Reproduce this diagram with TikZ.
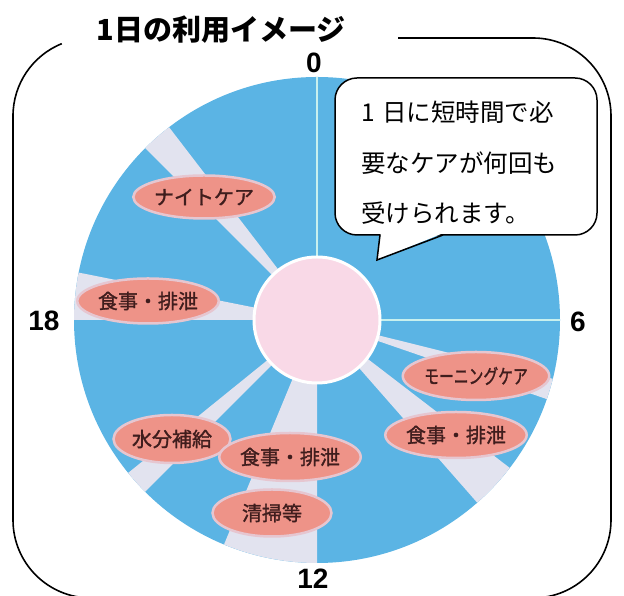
\documentclass[tikz,border=0pt]{standalone}
\usepackage{fontspec}
\usepackage{graphicx}
\usetikzlibrary{shapes.geometric}
\newfontfamily\jp{Noto Sans CJK JP}
\newfontfamily\jpm{Noto Sans CJK JP}[FakeBold=1.5]
\newfontfamily\numf{Liberation Sans}
\definecolor{bluec}{HTML}{5BB4E4}
\definecolor{slotc}{HTML}{E2E3EF}
\definecolor{linec}{HTML}{C8F0EE}
\definecolor{pinkc}{HTML}{F9D9E7}
\definecolor{salmon}{HTML}{EE9388}
\definecolor{ellborder}{HTML}{E6C6D0}
\definecolor{txtc}{HTML}{3F1D1D}
\tikzset{
  careell/.style={ellipse, fill=salmon, draw=ellborder, line width=2.5pt, inner sep=0pt,
    font=\jpm\fontsize{20}{20}\selectfont, text=txtc},
  hourlbl/.style={font=\numf\bfseries\fontsize{28}{28}\selectfont, inner sep=0pt},
  bubtxt/.style={font=\jp\fontsize{24.5}{24.5}\selectfont, inner sep=0pt, anchor=west},
  slotfill/.style={fill=slotc}
}
\begin{document}
\begin{tikzpicture}[x=1pt,y=1pt]
\useasboundingbox (0,0) rectangle (624,596);
\coordinate (C) at (317,276);
% dial
\fill[bluec] (C) circle[radius=243];
\foreach \a/\b in {127.5/135, 168.75/180, -19/-14, -48.75/-37.5, -141/-135, -112.5/-90}
  \fill[slotfill] (C) -- ++(\a:243) arc[start angle=\a, end angle=\b, radius=243] -- cycle;
\draw[linec, line width=2pt] (C) -- ++(90:243);
\draw[linec, line width=2pt] (C) -- ++(0:243);
\node[circle, fill=pinkc, draw=white, line width=3pt, minimum size=126pt, inner sep=0pt] (hub) at (C) {};
% care ellipses
\node[careell, minimum width=118pt, minimum height=43pt] (e1) at (204,399) {ナイトケア};
\node[careell, minimum width=114pt, minimum height=45pt] (e2) at (148,295) {食事・排泄};
\node[careell, minimum width=117pt, minimum height=48pt] (e3) at (476,220) {\scalebox{0.74}[1]{モーニングケア}};
\node[careell, minimum width=122pt, minimum height=46pt] (e4) at (456,161) {食事・排泄};
\node[careell, minimum width=117pt, minimum height=48pt] (e5) at (172,157) {水分補給};
\node[careell, minimum width=120pt, minimum height=48pt] (e6) at (290,139) {食事・排泄};
\node[careell, minimum width=119pt, minimum height=47pt] (e7) at (272,83) {清掃等};
% hour labels
\node[hourlbl] (h0) at (314,533) {0};
\node[hourlbl] (h6) at (578,274) {6};
\node[hourlbl] (h12) at (313,17) {12};
\node[hourlbl] (h18) at (44,275) {18};
% speech bubble
\node[draw, line width=1.5pt, fill=white, rounded corners=22pt, minimum width=262pt, minimum height=157pt, inner sep=0pt] (bub) at (466,439.5) {};
\fill[white] (380.75,363) -- (377,336) -- (443.5,363) -- cycle;
\draw[line width=1.5pt, line join=miter] (380,361) -- (377,336) -- (443,361);
\node[bubtxt] (t1) at (361,484) {1\hspace{0.3em}日に短時間で必};
\node[bubtxt] (t2) at (361,433) {要なケアが何回も};
\node[bubtxt] (t3) at (361,383) {受けられます。};
% frame
\draw[line width=1.6pt] (398,558) -- (533,558) arc[start angle=90,end angle=0,radius=78]
  -- (611,76) arc[start angle=0,end angle=-90,radius=78]
  -- (91,-2) arc[start angle=270,end angle=180,radius=78]
  -- (13,480) arc[start angle=180,end angle=112,radius=78];
\node[font=\jp\bfseries\fontsize{29}{29}\selectfont, inner sep=0pt] (title) at (221,566) {1日の利用イメージ};
\end{tikzpicture}
\end{document}
